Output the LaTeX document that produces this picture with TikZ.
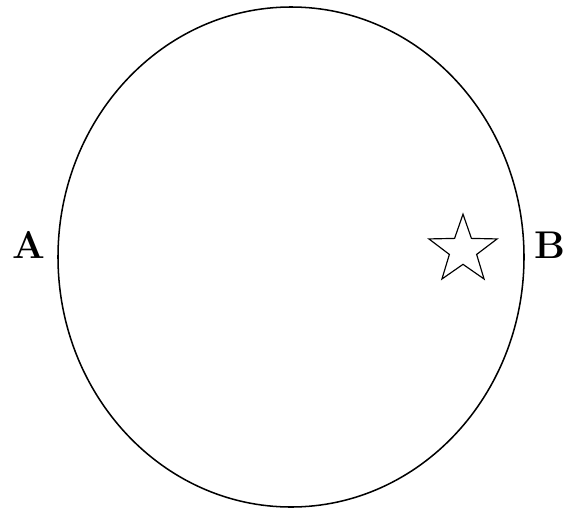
\documentclass[tikz,border=0pt]{standalone}
\usetikzlibrary{shapes.geometric}
\begin{document}
\begin{tikzpicture}[line width=1.3pt, lbl/.style={font=\fontsize{33}{33}\selectfont\bfseries}]
\useasboundingbox (0,0) rectangle (17.01,-15.36);
\draw (8.73,-7.71) ellipse [x radius=6.99, y radius=7.5];
\node[draw, star, star points=5, star point ratio=2.5, minimum size=2.15cm, inner sep=0pt, line width=1pt] (s) at (13.89,-7.5) {};
\node[lbl] (a) at (0.87,-7.35) {A};
\node[lbl] (b) at (16.5,-7.35) {B};
\end{tikzpicture}
\end{document}
